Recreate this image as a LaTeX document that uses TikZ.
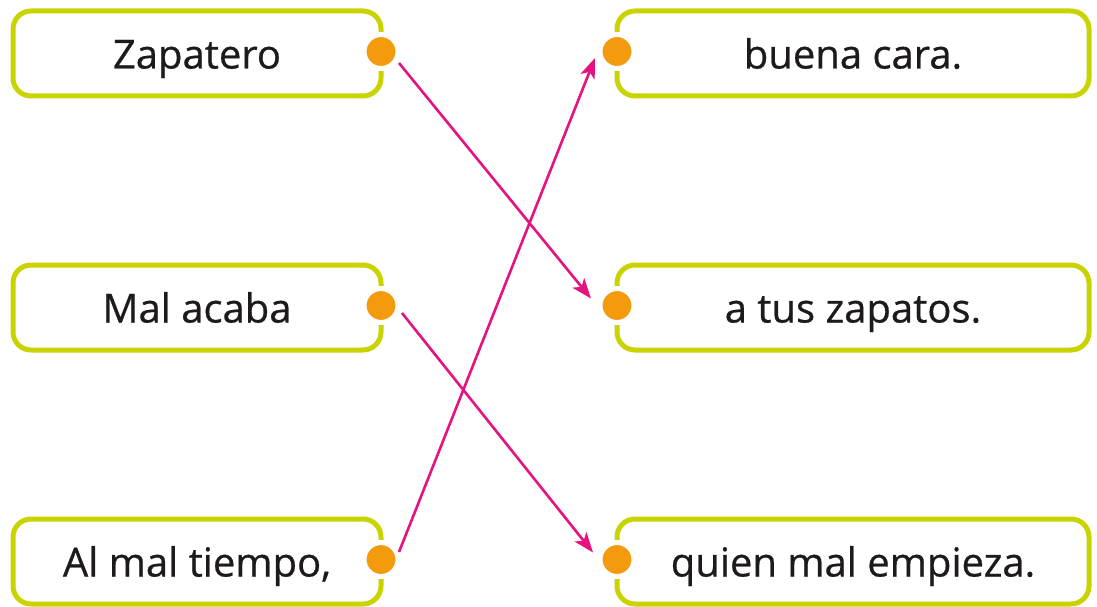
\documentclass[tikz,border=0pt]{standalone}
\usepackage{fontspec}
\setmainfont{Open Sans}
\newfontfamily\phrfont{Open Sans}[FakeBold=0.6]
\usetikzlibrary{arrows.meta,calc}
\definecolor{boxgreen}{HTML}{C9D300}
\definecolor{dotorange}{HTML}{F39A0D}
\definecolor{arrowpink}{HTML}{E5127F}
\definecolor{txt}{HTML}{1E1A1B}
\tikzset{
  phrase/.style={draw=boxgreen, line width=5pt, rounded corners=18pt, fill=white,
    minimum height=85pt, inner sep=0pt, outer sep=0pt, text=txt,
    font=\phrfont\fontsize{40}{42}\selectfont, text height=30pt, text depth=0pt},
  lbox/.style={phrase, minimum width=368pt},
  rbox/.style={phrase, minimum width=472pt},
  knob/.style={circle, fill=dotorange, draw=white, line width=5pt, minimum size=34pt, inner sep=0pt},
  link/.style={draw=arrowpink, line width=2.6pt, -{Stealth[length=20pt,width=15pt,inset=5pt]}}
}
\begin{document}
\begin{tikzpicture}[x=1pt,y=-1pt]
\useasboundingbox (0,0) rectangle (1097,607);
% left boxes
\node[lbox] (z) at (197,53.5) {Zapatero};
\node[lbox] (m) at (197,307.5) {Mal acaba};
\node[lbox] (a) at (197,561.5) {Al mal tiempo,};
% right boxes
\node[rbox] (b) at (853,53.5) {buena cara.};
\node[rbox] (t) at (853,307.5) {a tus zapatos.};
\node[rbox] (q) at (853,561.5) {quien mal empieza.};
% dots
\node[knob] (dz) at ([yshift=2pt]z.east) {};
\node[knob] (dm) at ([yshift=2pt]m.east) {};
\node[knob] (da) at ([yshift=2pt]a.east) {};
\node[knob] (db) at ([yshift=2pt]b.west) {};
\node[knob] (dt) at ([yshift=2pt]t.west) {};
\node[knob] (dq) at ([yshift=2pt]q.west) {};
% arrows
\draw[link] ($(dz)+(18,11.5)$) -- ($(dt)+(-26,-7)$);
\draw[link] ($(dm)+(21,7.5)$) -- ($(dq)+(-24,-7)$);
\draw[link] ($(da)+(18,-7.5)$) -- ($(db)+(-22,6.5)$);
\end{tikzpicture}
\end{document}
